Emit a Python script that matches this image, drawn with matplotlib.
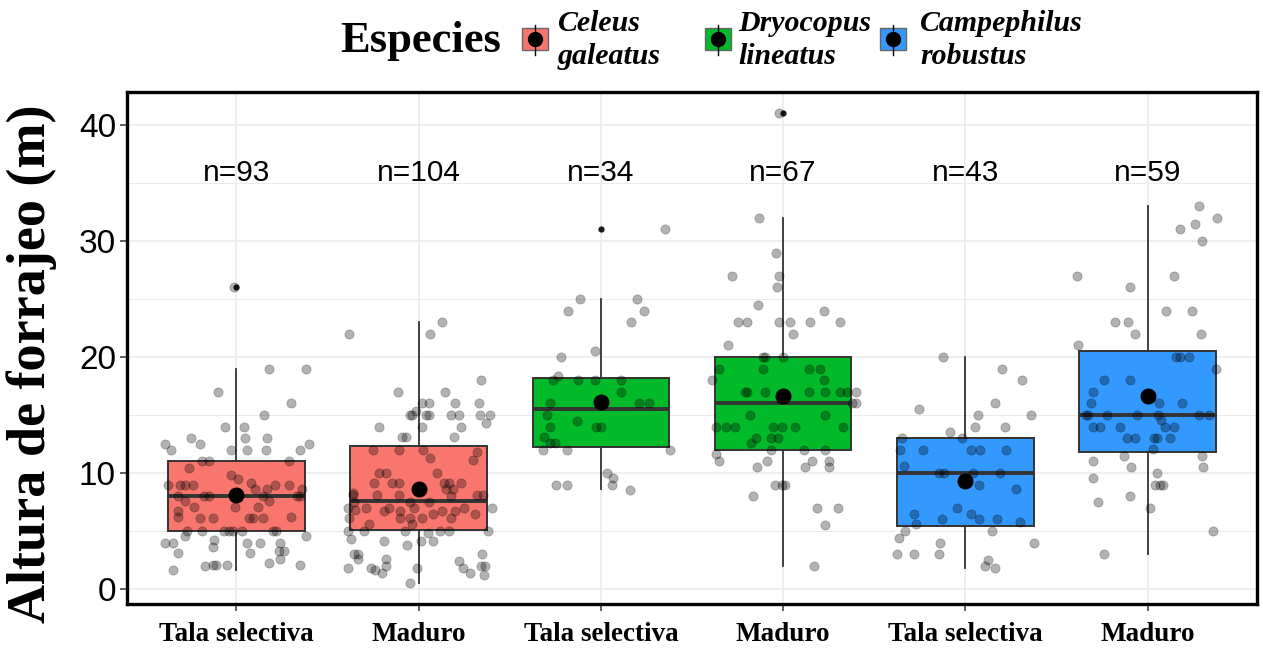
import matplotlib
matplotlib.use("Agg")
import matplotlib.pyplot as plt
from matplotlib.patches import Rectangle
from matplotlib.lines import Line2D
import numpy as np

# categorias del eje x y especies
categorias = ["Tala selectiva", "Maduro", "Tala selectiva", "Maduro", "Tala selectiva", "Maduro"]
especies = ["Celeus\ngaleatus", "Dryocopus\nlineatus", "Campephilus\nrobustus"]
colores = ["#F8766D", "#00BA2A", "#3399FF"]
n_obs = [93, 104, 34, 67, 43, 59]

# estadisticos de las cajas
q1 = [5.0, 5.1, 12.2, 12.0, 5.4, 11.8]
mediana = [8.0, 7.6, 15.5, 16.0, 10.0, 15.0]
q3 = [11.0, 12.3, 18.2, 20.0, 13.0, 20.5]
bigote_inf = [1.6, 0.55, 8.6, 2.0, 1.8, 3.0]
bigote_sup = [19.0, 23.0, 25.0, 32.0, 20.0, 33.0]
atipicos = [[26.0], [], [31.0], [41.0], [], []]
media = [8.1, 8.6, 16.1, 16.6, 9.3, 16.6]

# alturas de forrajeo observadas (m) y desplazamiento horizontal (jitter)
altura_1 = [26, 19, 19, 17, 16, 15,
            14, 14, 13, 13, 13,
            12.5, 12.5, 12.5, 12, 12, 12, 12, 12,
            11, 11, 11, 10.4, 9.8, 9.5,
            9, 9, 9, 9, 9.1, 8.6, 8.6, 9, 9, 8.6,
            8, 8, 8, 8, 8, 8, 7.6, 7.6,
            7.1, 7.1, 7.1, 6.7, 6.2,
            6.1, 6.1, 6.1, 6.1, 6.1, 6.2,
            5, 5, 5, 5, 5, 5, 5, 5,
            4.6, 4.6, 4, 4, 4.2, 4, 4, 4,
            3.6, 3.1, 3.1, 3.3, 3.3, 2.6,
            2, 2.1, 2.1, 2.1, 2.2, 2.1, 1.6]
jitter_1 = [-0.015, 0.18, 0.38, -0.10, 0.30, 0.15,
            -0.064, 0.044, 0.047, 0.17, -0.25,
            -0.39, -0.20, 0.40, -0.36, -0.03, 0.06, 0.16, 0.35,
            -0.19, -0.15, 0.29, -0.26, -0.03, 0.007,
            -0.375, -0.31, -0.28, -0.24, 0.08, 0.10, 0.166, 0.21, 0.29, 0.36,
            -0.32, -0.175, -0.148, 0.144, 0.33, 0.35, -0.28, 0.18,
            -0.23, -0.01, 0.12, -0.32, -0.32,
            -0.20, -0.13, 0.07, 0.09, 0.144, 0.30,
            -0.27, -0.19, -0.07, -0.04, -0.02, 0.03, 0.20, 0.22,
            -0.28, 0.38, -0.39, -0.35, -0.12, 0.056, 0.13, 0.24,
            -0.13, -0.32, 0.077, 0.235, 0.26, 0.24,
            -0.17, -0.13, -0.11, -0.05, 0.18, 0.35, -0.35]

altura_2 = [22, 23, 22, 18, 17, 17,
            16, 16, 16, 16, 15.3,
            15, 15, 15, 15, 15, 15, 15, 15,
            14, 14, 14, 14.3, 13.1, 13.1, 13.1,
            12, 12, 12, 11.85, 11.3, 11.1,
            10, 10, 10, 9.1, 9.1, 9.1, 9.1, 9.1, 9.1,
            8.6, 8.6, 8.3, 8.1, 8.1, 8.1, 8.0, 8.1, 8.1,
            7.5, 7.5, 7.5, 7, 6.8, 7, 7, 7, 7,
            6.7, 6.7, 6.5, 6.7, 6.7, 7, 6.5,
            6.1, 6.1, 6.1, 6.1, 6.1, 5.6, 5.6,
            5, 5, 5, 5, 5, 5, 4.8,
            4.3, 4.1, 4.1, 3.8, 4.1,
            3, 3, 3, 2.6, 2.6, 2.4,
            1.8, 1.8, 1.6, 1.4, 2.0, 1.8,
            1.8, 1.4, 2.0, 2.0, 1.2, 0.55]
jitter_2 = [-0.38, 0.13, 0.064, 0.34, -0.115, 0.146,
            0.018, 0.055, 0.20, 0.33, -0.013,
            -0.046, -0.036, 0.04, 0.055, 0.18, 0.22, 0.337, 0.39,
            -0.22, 0.02, 0.23, 0.37, -0.09, -0.07, 0.195,
            -0.25, -0.11, 0.024, 0.32, 0.064, 0.30,
            -0.22, -0.18, 0.10, -0.246, -0.146, -0.11, 0.137, 0.164, 0.233,
            0.15, 0.19, -0.36, -0.23, -0.11, -0.36, 0.18, 0.32, 0.355,
            -0.355, -0.046, 0.055, -0.39, -0.35, -0.29, -0.164, -0.027, 0.40,
            -0.19, -0.10, 0.08, 0.13, 0.20, 0.25, 0.31,
            -0.38, -0.10, -0.046, 0.018, 0.18, -0.27, -0.036,
            -0.386, -0.30, -0.077, 0.115, 0.164, 0.38, 0.05,
            -0.37, -0.19, 0.08, -0.064, 0.015,
            -0.355, -0.33, 0.35, -0.33, -0.18, 0.22,
            -0.39, -0.26, -0.24, -0.2, -0.18, -0.01,
            0.246, 0.28, 0.34, 0.364, 0.36, -0.046]

altura_3 = [31, 25, 25, 24, 24, 23,
            20.5, 20, 18.4, 18, 18, 18, 18, 17,
            16, 16, 16, 15, 14.5, 14, 14, 14,
            13.1, 12.6, 12.6, 12, 12, 12,
            10, 9.6, 9, 9, 9, 8.5]
jitter_3 = [0.35, -0.117, 0.20, -0.18, 0.235, 0.164,
            -0.03, -0.22, -0.235, -0.26, -0.124, -0.033, 0.11, 0.113,
            -0.277, 0.21, 0.266, -0.295, -0.133, -0.277, -0.025, 0.0,
            -0.31, -0.28, -0.25, -0.32, -0.184, 0.38,
            0.036, 0.064, 0.06, -0.246, -0.184, 0.158]

altura_4 = [41, 32, 29, 27, 27, 26, 24.5, 24,
            23, 23, 23, 23, 23, 23, 22, 21,
            20, 20, 20, 19, 19, 19, 19, 18, 18,
            17, 17, 17, 17, 17, 17, 17, 17, 16, 16,
            15, 15, 14, 14, 14, 14, 14, 14, 14,
            13, 13, 13, 12.6, 12, 12, 12, 11.6,
            11, 11, 11, 11, 10.5, 10.5, 10.5,
            9, 9, 9, 8, 7, 7, 5.5, 2]
jitter_4 = [-0.025, -0.13, -0.04, -0.28, -0.025, -0.035, -0.137, 0.226,
            -0.248, -0.2, -0.025, 0.035, 0.15, 0.31, 0.056, -0.30,
            -0.11, -0.097, 0.0, -0.35, -0.11, 0.144, 0.2, -0.39, 0.226,
            -0.21, -0.197, -0.097, 0.144, 0.23, 0.31, 0.35, 0.40, 0.38, 0.40,
            -0.184, 0.23, -0.37, -0.315, -0.266, -0.056, -0.005, 0.067, 0.326,
            -0.15, -0.066, -0.03, -0.175, -0.066, 0.117, 0.23, -0.37,
            -0.353, -0.087, 0.158, 0.25, -0.144, 0.122, 0.253,
            -0.044, -0.005, 0.013, -0.168, 0.186, 0.30, 0.23, 0.17]

altura_5 = [20, 19, 18, 16, 15.5, 15, 15, 14, 14, 13.5,
            13, 13, 12, 12, 12, 12, 12, 10.6,
            10, 10, 10, 10, 9, 8.6, 7, 6.5, 6.5,
            6, 6, 6, 5.8, 5.6, 5, 5, 4.4, 4, 4,
            3, 3, 3, 2.5, 2, 1.8]
jitter_5 = [-0.124, 0.20, 0.31, 0.164, -0.255, 0.07, 0.36, 0.055, 0.22, -0.087,
            -0.35, -0.018, -0.36, -0.235, 0.03, 0.08, 0.224, -0.335,
            -0.146, -0.12, 0.04, 0.188, 0.073, 0.275, -0.047, -0.28, 0.03,
            -0.126, 0.077, 0.175, 0.30, -0.273, -0.33, 0.146, -0.364, -0.137, 0.375,
            -0.377, -0.284, -0.146, 0.124, 0.106, 0.164]

altura_6 = [33, 32, 31, 31.5, 30, 27, 27, 26,
            24, 24, 23, 23, 22, 22, 21,
            20, 20, 20, 19, 18, 18, 17,
            16, 16, 16, 15, 15, 15, 15, 15, 15, 15, 14.6,
            14, 14, 14, 14, 14, 13, 13, 13, 13, 13,
            12.1, 11.5, 11.5, 11, 10.5, 10.5, 10, 9.6,
            9, 9, 9, 8, 7.5, 7, 5, 3]
jitter_6 = [0.28, 0.38, 0.18, 0.26, 0.30, -0.39, 0.146, -0.097,
            0.10, 0.244, -0.18, -0.106, -0.07, 0.293, -0.38,
            0.157, 0.175, 0.228, 0.373, -0.24, -0.095, -0.30,
            -0.31, 0.062, 0.19, -0.34, -0.326, -0.222, -0.058, 0.055, 0.282, 0.337, 0.073,
            -0.30, -0.26, -0.153, 0.093, 0.146, -0.113, -0.07, 0.033, 0.05, 0.122,
            0.027, -0.13, 0.30, -0.30, -0.093, 0.306, 0.05, -0.30,
            0.042, 0.066, 0.084, -0.097, -0.27, 0.015, 0.36, -0.24]

alturas = [altura_1, altura_2, altura_3, altura_4, altura_5, altura_6]
jitters = [jitter_1, jitter_2, jitter_3, jitter_4, jitter_5, jitter_6]

serif = "Liberation Serif"
sans = "Liberation Sans"

fig = plt.figure(figsize=(12.63, 6.48), dpi=100)
W, H = 1263, 648
ax = fig.add_axes([127 / W, 44 / H, 1130 / W, 512 / H])

pos = np.arange(1, len(categorias) + 1)

# cajas
stats = []
for i in range(len(categorias)):
    stats.append(dict(med=mediana[i], q1=q1[i], q3=q3[i], whislo=bigote_inf[i],
                      whishi=bigote_sup[i], fliers=atipicos[i]))
bp = ax.bxp(stats, positions=pos, widths=0.75, patch_artist=True, showcaps=False,
            boxprops=dict(edgecolor="#333333", linewidth=1.4),
            medianprops=dict(color="#333333", linewidth=2.8),
            whiskerprops=dict(color="#333333", linewidth=1.3),
            flierprops=dict(marker="o", markerfacecolor="#1a1a1a", markeredgecolor="none",
                            markersize=4.5))
for i, caja in enumerate(bp["boxes"]):
    caja.set_facecolor(colores[i // 2])
    caja.set_zorder(2)
for m in bp["medians"]:
    m.set_zorder(3)

# puntos con jitter
for i in range(len(categorias)):
    ax.scatter(pos[i] + np.array(jitters[i]), alturas[i], s=44, color="black",
               alpha=0.3, edgecolors="black", linewidths=0.5, zorder=4)

# medias
ax.plot(pos, media, "o", color="black", markersize=10.5, zorder=5)

# etiquetas n=
for i in range(len(categorias)):
    ax.text(pos[i], 35.9, f"n={n_obs[i]}", ha="center", va="center",
            fontsize=21.5, family=sans, color="black")

ax.set_xlim(0.4, 6.6)
ax.set_ylim(-1.3, 42.85)
ax.set_xticks(pos)
ax.set_xticklabels(categorias, family=serif, fontweight="bold", fontsize=19.5)
ax.set_yticks([0, 10, 20, 30, 40])
ax.set_yticks([5, 15, 25, 35], minor=True)
ax.tick_params(axis="y", which="major", labelsize=24, length=5, width=1.1,
               color="#333333", pad=3)
ax.tick_params(axis="y", which="minor", length=0)
ax.tick_params(axis="x", length=5, width=1.1, color="#333333", pad=8)
for lab in ax.get_yticklabels():
    lab.set_family(sans)

ax.grid(True, which="major", color="#EBEBEB", linewidth=1.2, zorder=0)
ax.grid(True, which="minor", axis="y", color="#EBEBEB", linewidth=0.7, zorder=0)
ax.set_axisbelow(True)
for s in ax.spines.values():
    s.set_linewidth(2.4)
    s.set_color("black")

ax.set_ylabel("Altura de forrajeo (m)", family=serif, fontweight="bold", fontsize=39)
ax.yaxis.set_label_coords(-0.062, 0.47)

# leyenda manual arriba
def fx(x):
    return x / W

def fy(y):
    return 1 - y / H

fig.text(fx(340), fy(41), "Especies", family=serif, fontweight="bold", fontsize=32,
         ha="left", va="center")
llave_x = [522, 705, 880]
texto_x = [558, 738, 920]
for k in range(len(especies)):
    x0 = llave_x[k]
    fig.add_artist(Rectangle((fx(x0), fy(50)), 26 / W, 22 / H, transform=fig.transFigure,
                             facecolor=colores[k], edgecolor="#666666", linewidth=1))
    fig.add_artist(Line2D([fx(x0 + 13)] * 2, [fy(25), fy(55)], transform=fig.transFigure,
                          color="black", linewidth=1))
    fig.add_artist(Line2D([fx(x0 + 13)], [fy(39)], transform=fig.transFigure, marker="o",
                          markersize=10, color="black", linestyle="none"))
    fig.text(fx(texto_x[k]), fy(40), especies[k], family=serif, fontweight="bold",
             style="italic", fontsize=21.5, ha="left", va="center", linespacing=1.3)

fig.savefig("out.png", dpi=100)
